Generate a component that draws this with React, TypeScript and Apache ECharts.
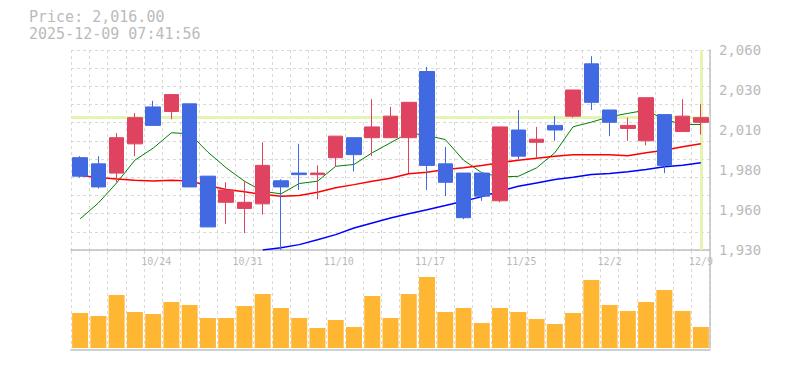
import React, { useEffect, useRef } from 'react';
import * as echarts from 'echarts';

// ---- data ----
const dates = [
  '10/20', '10/21', '10/22', '10/23', '10/24', '10/27', '10/28', '10/29', '10/30', '10/31',
  '11/4', '11/5', '11/6', '11/7', '11/10', '11/11', '11/12', '11/13', '11/14', '11/17',
  '11/18', '11/19', '11/20', '11/21', '11/25', '11/26', '11/27', '11/28', '12/1', '12/2',
  '12/3', '12/4', '12/5', '12/8', '12/9',
];
const opens = [1990, 1986, 1980, 1999, 2023, 2020, 2025, 1978, 1961, 1957, 1960, 1975, 1980, 1979, 1990, 2003, 2003, 2003, 2003, 2046, 1986, 1980, 1980, 1962, 2008, 2000, 2011, 2017, 2051, 2021, 2009, 2001, 2018, 2007, 2013];
const closes = [1978, 1971, 2003, 2016, 2011, 2031, 1971, 1945, 1969, 1961, 1985, 1971, 1979, 1980, 2004, 1992, 2010, 2017, 2026, 1985, 1974, 1951, 1965, 2010, 1991, 2002, 2008, 2034, 2026, 2013, 2011, 2029, 1985, 2017, 2016];
const lows = [1977, 1970, 1974, 1991, 2011, 2015, 1971, 1945, 1947, 1941, 1953, 1930, 1969, 1963, 1984, 1981, 1991, 2003, 1980, 1969, 1965, 1950, 1962, 1961, 1989, 1990, 2001, 2016, 2021, 2004, 2001, 1998, 1980, 2007, 2005];
const highs = [1991, 1991, 2006, 2019, 2027, 2031, 2025, 1978, 1974, 1975, 2000, 1976, 1999, 1985, 2004, 2003, 2028, 2023, 2026, 2049, 1997, 1980, 1980, 2010, 2021, 2010, 2017, 2034, 2056, 2021, 2016, 2029, 2018, 2028, 2025];
const ma5 = [1950.2, 1960.6, 1973.6, 1988.4, 1996.2, 2006.2, 2005.6, 1993.6, 1983.4, 1974.7, 1968.2, 1966.5, 1973.2, 1974.7, 1984.4, 1985.6, 1993.2, 1999.7, 2006.2, 2004.4, 2001.8, 1988.4, 1980.2, 1977.5, 1977.9, 1983.4, 1993.2, 2010.1, 2013.1, 2016.6, 2018.8, 2020.9, 2014.9, 2011.6, 2011.6];
const ma25 = [1978.4, 1977.1, 1976.2, 1975.3, 1974.9, 1975.3, 1974.9, 1971.9, 1969.3, 1967.8, 1966.2, 1964.9, 1965.4, 1967.5, 1970.4, 1972.5, 1974.7, 1976.6, 1979.5, 1980.5, 1982.3, 1983.4, 1984.9, 1986.7, 1988.4, 1989.7, 1991.0, 1991.9, 1991.9, 1991.9, 1991.2, 1993.2, 1994.9, 1997.1, 1999.0];
const ma75 = [null, null, null, null, null, null, null, null, null, null, 1930.0, 1931.5, 1933.5, 1936.7, 1940.0, 1944.3, 1947.6, 1950.8, 1953.6, 1956.2, 1958.9, 1961.7, 1964.7, 1968.2, 1971.4, 1973.6, 1975.8, 1977.3, 1979.0, 1979.7, 1980.8, 1982.3, 1984.1, 1985.1, 1986.7];
const volumes = [35, 32, 53, 36, 34, 46, 43, 30, 30, 42, 54, 40, 30, 20, 28, 21, 52, 30, 54, 71, 36, 40, 25, 40, 36, 29, 24, 35, 68, 43, 37, 46, 58, 37, 21];
const priceTickValues = [1930, 1956, 1982, 2008, 2034, 2060];
const priceTickLabels = ['1,930', '1,960', '1,980', '2,010', '2,030', '2,060'];
const currentPrice = 2016;
const timestamp = '2025-12-09 07:41:56';

const RED = '#e0435f';
const BLUE = '#4169e1';
const ORANGE = '#ffb733';
const CROSS = '#e4f5b2';
const GRID_LINE = '#d9d9d9';
const AXIS_LINE = '#c0c0c0';
const TEXT = '#bbbbbb';
const FONT = '"DejaVu Sans Mono", "Liberation Mono", monospace';

const dashed = { show: true, lineStyle: { color: GRID_LINE, width: 1, type: [3, 3] as number[] } };

export default function App() {
  const ref = useRef<HTMLDivElement>(null);
  useEffect(() => {
    if (!ref.current) return;
    const chart = echarts.init(ref.current, undefined, { renderer: 'svg' });
    const candleData = dates.map((_, i) => [opens[i], closes[i], lows[i], highs[i]]);
    chart.setOption({
      animation: false,
      backgroundColor: '#ffffff',
      title: {
        text: 'Price: ' + currentPrice.toLocaleString('en-US', { minimumFractionDigits: 2, maximumFractionDigits: 2 }),
        subtext: timestamp,
        left: 29,
        top: 10,
        padding: 0,
        itemGap: 1.5,
        textStyle: { fontFamily: FONT, fontSize: 15, fontWeight: 'normal', color: TEXT, lineHeight: 14 },
        subtextStyle: { fontFamily: FONT, fontSize: 15, fontWeight: 'normal', color: TEXT, lineHeight: 14 },
      },
      grid: [
        { left: 71, top: 50, width: 639, height: 200 },
        { left: 71, top: 251, width: 639, height: 97 },
      ],
      xAxis: [
        {
          gridIndex: 0,
          type: 'category',
          data: dates,
          boundaryGap: true,
          axisLine: { show: true, onZero: false, lineStyle: { color: AXIS_LINE, width: 1.5 } },
          axisTick: { show: false },
          axisLabel: {
            interval: (index: number) => index % 5 === 4,
            color: TEXT,
            fontFamily: FONT,
            fontSize: 10,
            margin: 6,
            align: 'left',
            padding: [0, 0, 0, -12],
          },
          splitLine: { ...dashed, interval: 0 },
        },
        {
          gridIndex: 1,
          type: 'category',
          data: dates,
          boundaryGap: true,
          offset: 2,
          axisLine: { show: true, onZero: false, lineStyle: { color: AXIS_LINE, width: 1.5 } },
          axisTick: { show: false },
          axisLabel: { show: false },
          splitLine: { ...dashed, interval: 0 },
        },
      ],
      yAxis: [
        {
          gridIndex: 0,
          type: 'value',
          position: 'right',
          min: 1930,
          max: 2060,
          axisLine: { show: true, onZero: false, lineStyle: { color: AXIS_LINE, width: 1.5 } },
          axisTick: { show: false },
          splitLine: { show: false },
          axisLabel: {
            customValues: priceTickValues,
            formatter: (v: number) => {
              const i = priceTickValues.findIndex((t) => Math.abs(t - v) < 0.5);
              return i >= 0 ? priceTickLabels[i] : '';
            },
            color: TEXT,
            fontFamily: FONT,
            fontSize: 14,
            margin: 9,
            padding: [6, 0, 0, 0],
          },
        },
        {
          gridIndex: 0,
          type: 'value',
          position: 'left',
          min: 0,
          max: 11,
          interval: 1,
          axisLine: { show: false },
          axisTick: { show: false },
          axisLabel: { show: false },
          splitLine: dashed,
        },
        {
          gridIndex: 1,
          type: 'value',
          position: 'right',
          min: 0,
          max: 97,
          axisLine: { show: true, onZero: false, lineStyle: { color: AXIS_LINE, width: 1.5 } },
          axisTick: { show: false },
          axisLabel: { show: false },
          splitLine: { show: false },
        },
      ],
      series: [
        {
          type: 'candlestick',
          name: 'Price',
          xAxisIndex: 0,
          yAxisIndex: 0,
          data: candleData,
          barWidth: 15,
          z: 3,
          itemStyle: { color: RED, color0: BLUE, borderColor: RED, borderColor0: BLUE, borderWidth: 1 },
          markLine: {
            silent: true,
            z: 1,
            symbol: 'none',
            label: { show: false },
            lineStyle: { color: CROSS, width: 3, type: 'solid' },
            emphasis: { disabled: true },
            data: [{ yAxis: currentPrice }, { xAxis: dates[dates.length - 1] }],
          },
        },
        {
          type: 'line', name: 'MA5', xAxisIndex: 0, yAxisIndex: 0, data: ma5, symbol: 'none', z: 2,
          lineStyle: { color: '#008000', width: 1 },
        },
        {
          type: 'line', name: 'MA25', xAxisIndex: 0, yAxisIndex: 0, data: ma25, symbol: 'none', z: 2,
          lineStyle: { color: '#ff0000', width: 1.5 },
        },
        {
          type: 'line', name: 'MA75', xAxisIndex: 0, yAxisIndex: 0, data: ma75, symbol: 'none', z: 2,
          lineStyle: { color: '#0000ff', width: 1.5 },
        },
        {
          type: 'bar', name: 'Volume', xAxisIndex: 1, yAxisIndex: 2, data: volumes, barWidth: 16,
          itemStyle: { color: ORANGE },
        },
      ],
    });
    return () => chart.dispose();
  }, []);
  return <div ref={ref} style={{ position: 'fixed', left: 0, top: 0, width: 785, height: 370 }} />;
}
